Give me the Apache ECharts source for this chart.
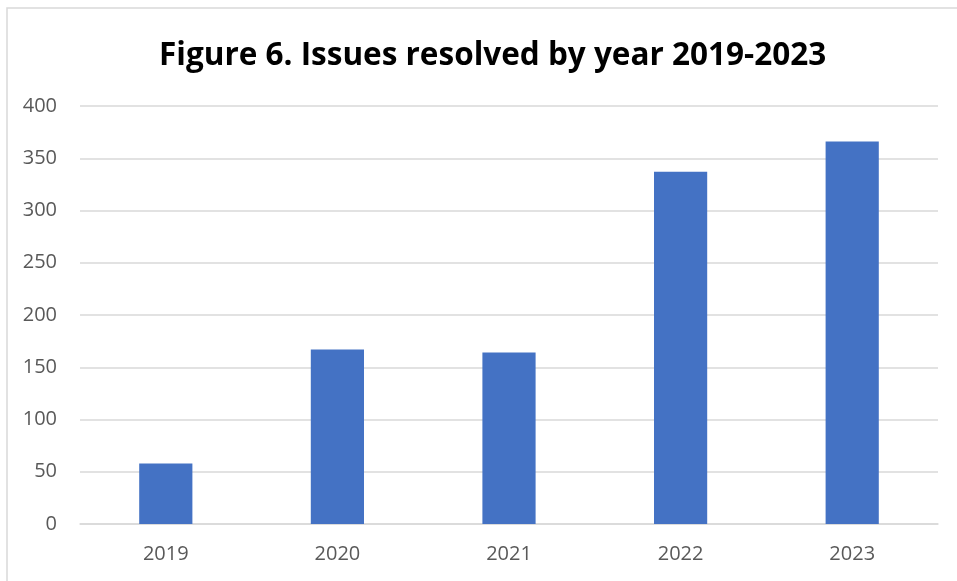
<!DOCTYPE html>
<html>
<head>
<meta charset="utf-8">
<script src="https://cdn.jsdelivr.net/npm/echarts@6/dist/echarts.min.js"></script>
<style>
html,body{margin:0;padding:0;background:#fff;}
#chart{width:957px;height:581px;}
</style>
</head>
<body>
<div id="chart"></div>
<script>
const titleText = 'Figure 6. Issues resolved by year 2019-2023';
const categories = ['2019', '2020', '2021', '2022', '2023'];
const issuesResolved = [58, 167, 164, 337, 366];
const yTicks = { min: 0, max: 400, interval: 50 };

const chart = echarts.init(document.getElementById('chart'), null, { renderer: 'canvas' });
chart.setOption({
  backgroundColor: '#ffffff',
  animation: false,
  graphic: [{
    type: 'rect',
    shape: { x: 7, y: 8, width: 980, height: 600 },
    style: { fill: 'none', stroke: '#d9d9d9', lineWidth: 1.5 },
    silent: true
  }],
  title: {
    text: titleText,
    left: 154,
    top: 35,
    textStyle: { fontFamily: 'Open Sans', fontWeight: 'bold', fontSize: 31.5, color: '#000000' }
  },
  grid: { left: 80, right: 19, top: 106, bottom: 57, containLabel: false },
  xAxis: {
    type: 'category',
    data: categories,
    axisLine: { show: true, lineStyle: { color: '#d9d9d9', width: 1.5 } },
    axisTick: { show: false },
    axisLabel: { color: '#595959', fontFamily: 'Open Sans', fontSize: 20, margin: 20 }
  },
  yAxis: {
    type: 'value',
    min: yTicks.min, max: yTicks.max, interval: yTicks.interval,
    axisLine: { show: false },
    axisTick: { show: false },
    splitLine: { lineStyle: { color: '#d9d9d9', width: 1.5 } },
    axisLabel: { color: '#595959', fontFamily: 'Open Sans', fontSize: 20, margin: 23 }
  },
  series: [{
    type: 'bar',
    data: issuesResolved,
    barWidth: '31%',
    itemStyle: { color: '#4472c4' }
  }]
});
</script>
</body>
</html>
